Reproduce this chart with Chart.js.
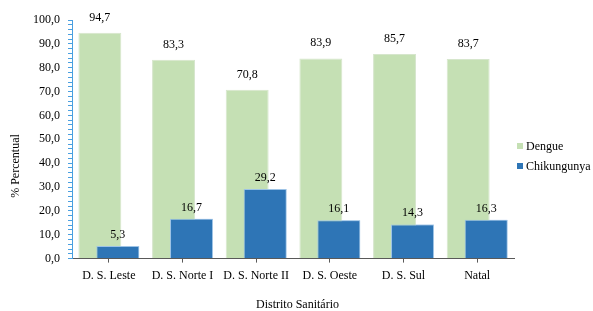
<!DOCTYPE html>
<html>
<head>
<meta charset="utf-8">
<script src="https://cdn.jsdelivr.net/npm/chart.js@4"></script>
<style>
    body { margin: 0; background: #fff; }
</style>
</head>
<body>
<canvas id="myChart" width="593" height="311"></canvas>
<script>
// dados
const distritos = ['D. S. Leste', 'D. S. Norte I', 'D. S. Norte II', 'D. S. Oeste', 'D. S. Sul', 'Natal'];
const dengue = [94.7, 83.3, 70.8, 83.9, 85.7, 83.7];
const chikungunya = [5.3, 16.7, 29.2, 16.1, 14.3, 16.3];
const yMin = 0, yMax = 100, yStep = 2, yLabelStep = 10;

const fonte = '12px "Liberation Serif", "Times New Roman", serif';
const fmt = v => v.toFixed(1).replace('.', ',');
const gapRotulo = [12, 8];

const extras = {
    id: 'extras',
    afterDatasetsDraw(chart) {
        let ctx = chart.ctx;
        // chikungunya fica por cima da dengue
        chart.getDatasetMeta(1).data.forEach(b => b.draw(ctx));

        ctx.save();
        ctx.font = fonte;
        ctx.fillStyle = '#000';
        ctx.textAlign = 'center';
        ctx.textBaseline = 'alphabetic';
        chart.data.datasets.forEach((ds, i) => {
            chart.getDatasetMeta(i).data.forEach((b, j) => {
                ctx.fillText(fmt(ds.data[j]), b.x, b.y - gapRotulo[i]);
            });
        });
        ctx.restore();
    },
    afterDraw(chart) {
        let ctx = chart.ctx;
        ctx.save();
        ctx.font = fonte;
        ctx.fillStyle = '#000';
        ctx.textBaseline = 'alphabetic';

        // título eixo x
        ctx.textAlign = 'center';
        ctx.fillText('Distrito Sanitário', 297.5, 308);

        // título eixo y
        ctx.save();
        ctx.translate(18.5, 166);
        ctx.rotate(-Math.PI / 2);
        ctx.fillText('% Percentual', 0, 0);
        ctx.restore();

        // legenda
        ctx.textAlign = 'left';
        chart.data.datasets.forEach((ds, i) => {
            let base = 150 + i * 20;
            ctx.fillStyle = ds.backgroundColor;
            ctx.fillRect(517, base - 7, 6, 6);
            ctx.fillStyle = '#000';
            ctx.fillText(ds.label, 526, base);
        });
        ctx.restore();
    }
};

let ctx = document.getElementById('myChart');
let myChart = new Chart(ctx, {
    type: 'bar',
    data: {
        labels: distritos,
        datasets: [{
                label: 'Dengue',
                data: dengue,
                backgroundColor: '#C5E0B4',
                borderColor: '#D6E6CC',
                borderWidth: 1
            },
            {
                label: 'Chikungunya',
                data: chikungunya,
                backgroundColor: '#2E75B6',
                borderColor: '#9DC3E6',
                borderWidth: 1
            }
        ]
    },
    options: {
        responsive: false,
        animation: false,
        categoryPercentage: 0.4876,
        barPercentage: 2.39,
        layout: {
            padding: { left: 25, right: 79, top: 20, bottom: 22 }
        },
        plugins: {
            legend: { display: false },
            tooltip: { enabled: false }
        },
        scales: {
            x: {
                grid: {
                    drawOnChartArea: false,
                    offset: false,
                    tickLength: 4,
                    tickColor: '#595959'
                },
                border: { color: '#595959' },
                ticks: {
                    font: { family: '"Liberation Serif"', size: 12 },
                    color: '#000',
                    padding: 6,
                    maxRotation: 0,
                    autoSkip: false
                }
            },
            y: {
                min: yMin,
                max: yMax,
                grid: {
                    drawOnChartArea: false,
                    tickLength: 4,
                    tickColor: '#4A9FE0'
                },
                border: { color: '#4A9FE0' },
                ticks: {
                    stepSize: yStep,
                    autoSkip: false,
                    font: { family: '"Liberation Serif"', size: 12 },
                    color: '#000',
                    padding: 8,
                    callback: v => Math.abs(v % yLabelStep) < 1e-6 ? fmt(v) : ''
                }
            }
        }
    },
    plugins: [extras]
});
</script>
</body>
</html>
